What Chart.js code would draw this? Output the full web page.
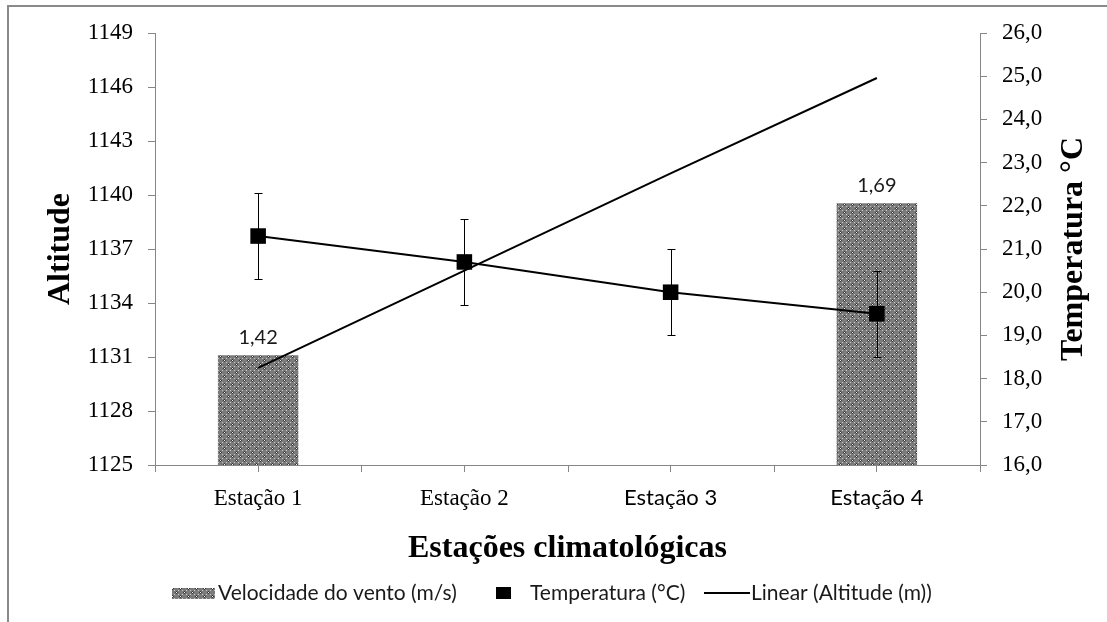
<!DOCTYPE html>
<html>
<head>
<meta charset="utf-8">
<script src="https://cdn.jsdelivr.net/npm/chart.js@4/dist/chart.umd.min.js"></script>
<style>
  html, body { margin: 0; padding: 0; background: #fff; }
  #chart { display: block; }
</style>
</head>
<body>
<canvas id="chart" width="1107" height="622"></canvas>
<script>
// data
var stations = ['Estação 1', 'Estação 2', 'Estação 3', 'Estação 4'];
var windSpeed = [1.42, null, null, 1.69];
var temperature = [21.3, 20.7, 20.0, 19.5];
var tempError = [1.0, 1.0, 1.0, 1.0];
var altitudeTrend = [1130.4, 1135.8, 1141.2, 1146.5];
var altitudeTicks = [1125, 1128, 1131, 1134, 1137, 1140, 1143, 1146, 1149];
var tempTicks = [16, 17, 18, 19, 20, 21, 22, 23, 24, 25, 26];

var serif = "'Liberation Serif', 'Times New Roman', serif";
var sans = "Lato, 'Open Sans', sans-serif";
var axisGray = '#868686';

function makePattern() {
  var p = document.createElement('canvas');
  p.width = 8; p.height = 8;
  var g = p.getContext('2d');
  g.fillStyle = '#7b7b7b';
  g.fillRect(0, 0, 8, 8);
  function dots(color, pts) {
    g.fillStyle = color;
    pts.forEach(function(d) { g.fillRect(d[0], d[1], 1, 1); });
  }
  dots('#f8f8f8', [[0, 0], [4, 4]]);
  dots('#c8c8c8', [[2, 2], [6, 6], [2, 6], [6, 2]]);
  dots('#3a3a3a', [[1, 0], [0, 1], [5, 4], [4, 5], [7, 0], [0, 7], [3, 4], [4, 3]]);
  return document.getElementById('chart').getContext('2d').createPattern(p, 'repeat');
}
var barFill = makePattern();

function comma(v, d) { return v.toFixed(d).replace('.', ','); }

var framePlugin = {
  id: 'frame',
  beforeDraw: function(chart) {
    var c = chart.ctx;
    c.save();
    c.fillStyle = '#fff';
    c.fillRect(0, 0, chart.width, chart.height);
    c.strokeStyle = '#8a8a8a';
    c.lineWidth = 2;
    c.beginPath();
    c.moveTo(8, chart.height);
    c.lineTo(8, 6);
    c.lineTo(chart.width, 6);
    c.stroke();
    c.restore();
  },
  afterDraw: function(chart) {
    // boundary ticks of the category axis
    var x = chart.scales.x, c = chart.ctx;
    var step = (x.right - x.left) / stations.length;
    c.save();
    c.strokeStyle = axisGray;
    c.lineWidth = 1;
    c.beginPath();
    for (var i = 0; i <= stations.length; i++) {
      var px = Math.round(x.left + i * step) + 0.5;
      c.moveTo(px, x.top);
      c.lineTo(px, x.top + 7);
    }
    c.stroke();
    // right axis title, reading bottom to top
    var area = chart.chartArea;
    c.translate(1074, (area.top + area.bottom) / 2);
    c.rotate(-Math.PI / 2);
    c.font = 'bold 32px ' + serif;
    c.fillStyle = '#000';
    c.textAlign = 'center';
    c.textBaseline = 'middle';
    c.fillText('Temperatura °C', 0, 0);
    c.restore();
  }
};

var errorBars = {
  id: 'errorBars',
  beforeDatasetDraw: function(chart, args) {
    if (args.index !== 1) return;
    var s = chart.scales.yTemp, c = chart.ctx;
    c.save();
    c.strokeStyle = '#000';
    c.lineWidth = 1;
    args.meta.data.forEach(function(pt, i) {
      var x = Math.round(pt.x) + 0.5;
      var hi = Math.round(s.getPixelForValue(temperature[i] + tempError[i])) + 0.5;
      var lo = Math.round(s.getPixelForValue(temperature[i] - tempError[i])) + 0.5;
      c.beginPath();
      c.moveTo(x, hi); c.lineTo(x, lo);
      c.moveTo(x - 4, hi); c.lineTo(x + 4, hi);
      c.moveTo(x - 4, lo); c.lineTo(x + 4, lo);
      c.stroke();
    });
    c.restore();
  }
};

var barLabels = {
  id: 'barLabels',
  afterDatasetsDraw: function(chart) {
    var meta = chart.getDatasetMeta(0), c = chart.ctx;
    c.save();
    c.font = '20px ' + sans;
    c.fillStyle = '#1a1a1a';
    c.textAlign = 'center';
    c.textBaseline = 'bottom';
    meta.data.forEach(function(bar, i) {
      if (windSpeed[i] == null) return;
      c.fillText(comma(windSpeed[i], 2), bar.x, bar.y - 8);
    });
    c.restore();
  }
};

var legendPlugin = {
  id: 'customLegend',
  afterDraw: function(chart) {
    var c = chart.ctx, y = 593;
    c.save();
    c.font = '21px ' + sans;
    c.textBaseline = 'middle';
    c.textAlign = 'left';
    // bar swatch
    c.fillStyle = barFill;
    c.fillRect(172, 588, 43, 11);
    c.fillStyle = '#1a1a1a';
    c.fillText('Velocidade do vento (m/s)', 218, y);
    // square marker
    c.fillStyle = '#000';
    c.fillRect(496, 587, 15, 12);
    c.fillStyle = '#1a1a1a';
    c.fillText('Temperatura (°C)', 530, y);
    // line marker
    c.strokeStyle = '#000';
    c.lineWidth = 2;
    c.beginPath();
    c.moveTo(704, y); c.lineTo(750, y);
    c.stroke();
    c.fillText('Linear (Altitude (m))', 751, y);
    c.restore();
  }
};

new Chart(document.getElementById('chart'), {
  type: 'bar',
  data: {
    labels: stations,
    datasets: [
      {
        type: 'bar',
        label: 'Velocidade do vento (m/s)',
        data: windSpeed,
        yAxisID: 'yWind',
        backgroundColor: barFill,
        borderWidth: 0,
        barPercentage: 0.39,
        categoryPercentage: 1,
        order: 3
      },
      {
        type: 'line',
        label: 'Temperatura (°C)',
        data: temperature,
        yAxisID: 'yTemp',
        borderColor: '#000',
        borderWidth: 2,
        pointStyle: 'rect',
        pointRadius: 11,
        pointBackgroundColor: '#000',
        pointBorderWidth: 0,
        order: 1
      },
      {
        type: 'line',
        label: 'Linear (Altitude (m))',
        data: altitudeTrend,
        yAxisID: 'y',
        borderColor: '#000',
        borderWidth: 2,
        pointRadius: 0,
        order: 2
      }
    ]
  },
  options: {
    responsive: false,
    animation: false,
    layout: { padding: { top: 33, left: 0, right: 0, bottom: 52 } },
    plugins: { legend: { display: false }, tooltip: { enabled: false } },
    scales: {
      x: {
        offset: true,
        grid: { offset: false, drawOnChartArea: false, tickLength: 7, color: axisGray },
        border: { color: axisGray },
        ticks: {
          color: '#000',
          padding: 13,
          font: function(ctx) {
            return ctx.index < 2 ? { family: serif, size: 23 } : { family: sans, size: 22 };
          }
        },
        title: {
          display: true,
          text: 'Estações climatológicas',
          color: '#000',
          font: { family: serif, size: 32, weight: 'bold' },
          padding: { top: 0, bottom: 2 }
        },
        afterFit: function(s) { s.height = 105; }
      },
      y: {
        position: 'left',
        min: 1125,
        max: 1149,
        afterBuildTicks: function(s) { s.ticks = altitudeTicks.map(function(v) { return { value: v }; }); },
        grid: { drawOnChartArea: false, tickLength: 7, color: axisGray },
        border: { color: axisGray },
        ticks: {
          color: '#000',
          padding: 15,
          font: { family: serif, size: 23 },
          callback: function(v) { return String(v); }
        },
        title: {
          display: true,
          text: 'Altitude',
          color: '#000',
          font: { family: serif, size: 32, weight: 'bold' },
          padding: { top: 42, bottom: 0 }
        },
        afterFit: function(s) { s.width = 155; }
      },
      yTemp: {
        position: 'right',
        min: 16,
        max: 26,
        afterBuildTicks: function(s) { s.ticks = tempTicks.map(function(v) { return { value: v }; }); },
        grid: { drawOnChartArea: false, tickLength: 7, color: axisGray },
        border: { color: axisGray },
        ticks: {
          color: '#000',
          padding: 15,
          font: { family: serif, size: 23 },
          callback: function(v) { return comma(v, 1); }
        },
        afterFit: function(s) { s.width = 127; }
      },
      yWind: {
        display: false,
        min: 1.225,
        max: 1.9925
      }
    }
  },
  plugins: [framePlugin, errorBars, barLabels, legendPlugin]
});
</script>
</body>
</html>
